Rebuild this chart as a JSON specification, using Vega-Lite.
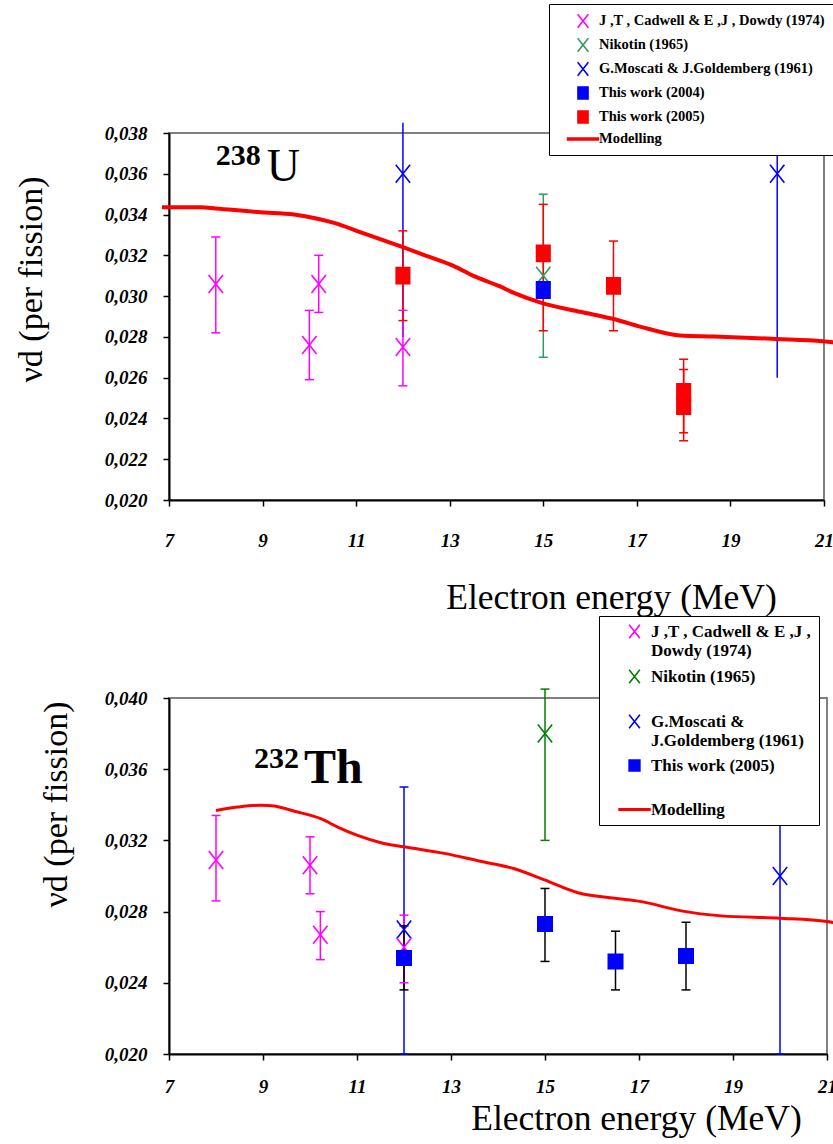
{
  "$schema": "https://vega.github.io/schema/vega-lite/v6.json",
  "padding": {"left": 13, "top": 2, "right": 0, "bottom": 0},
  "background": "white",
  "bounds": "flush",
  "spacing": 198,
  "datasets": {
    "u_pts": [
      {"s": "G.Moscati & J.Goldemberg (1961)", "E": 12, "v": 0.036, "lo": 0.028, "hi": 0.0385},
      {"s": "G.Moscati & J.Goldemberg (1961)", "E": 20, "v": 0.036, "lo": 0.026, "hi": 0.0385},
      {"s": "J ,T , Cadwell & E ,J , Dowdy (1974)", "E": 8, "v": 0.0306, "lo": 0.0282, "hi": 0.0329},
      {"s": "J ,T , Cadwell & E ,J , Dowdy (1974)", "E": 10, "v": 0.0276, "lo": 0.0259, "hi": 0.0293},
      {"s": "J ,T , Cadwell & E ,J , Dowdy (1974)", "E": 10.2, "v": 0.0306, "lo": 0.0292, "hi": 0.032},
      {"s": "J ,T , Cadwell & E ,J , Dowdy (1974)", "E": 12, "v": 0.0275, "lo": 0.0256, "hi": 0.0293},
      {"s": "Nikotin (1965)", "E": 15, "v": 0.031, "lo": 0.027, "hi": 0.035},
      {"s": "This work (2004)", "E": 15, "v": 0.0303, "lo": null, "hi": null},
      {"s": "This work (2005)", "E": 12, "v": 0.031, "lo": 0.0288, "hi": 0.0332},
      {"s": "This work (2005)", "E": 15, "v": 0.0321, "lo": 0.0283, "hi": 0.0345},
      {"s": "This work (2005)", "E": 16.5, "v": 0.0305, "lo": 0.0283, "hi": 0.0327},
      {"s": "This work (2005)", "E": 18, "v": 0.0253, "lo": 0.0233, "hi": 0.0269},
      {"s": "This work (2005)", "E": 18, "v": 0.0246, "lo": 0.0229, "hi": 0.0264}
    ],
    "u_curve": [
      {"E": 6.85, "v": 0.03436}, {"E": 7.0, "v": 0.03436}, {"E": 7.68, "v": 0.03436},
      {"E": 8.0, "v": 0.0343}, {"E": 8.96, "v": 0.03411}, {"E": 9.67, "v": 0.034},
      {"E": 10.1, "v": 0.03383}, {"E": 10.53, "v": 0.03359}, {"E": 11.1, "v": 0.03313},
      {"E": 12.0, "v": 0.0324}, {"E": 12.52, "v": 0.03196}, {"E": 13.09, "v": 0.03147},
      {"E": 13.52, "v": 0.03098}, {"E": 14.05, "v": 0.0305}, {"E": 14.37, "v": 0.03016},
      {"E": 14.96, "v": 0.02967}, {"E": 15.79, "v": 0.02923}, {"E": 16.48, "v": 0.02889},
      {"E": 17.22, "v": 0.02841}, {"E": 17.93, "v": 0.02807}, {"E": 18.64, "v": 0.02802},
      {"E": 19.98, "v": 0.0279}, {"E": 20.97, "v": 0.02779}, {"E": 21.2, "v": 0.02774}
    ],
    "th_pts": [
      {"s": "G.Moscati & J.Goldemberg (1961)", "E": 12, "v": 0.027, "lo": 0.02, "hi": 0.035},
      {"s": "G.Moscati & J.Goldemberg (1961)", "E": 20, "v": 0.03, "lo": 0.02, "hi": 0.04},
      {"s": "J ,T , Cadwell & E ,J , Dowdy (1974)", "E": 8, "v": 0.0309, "lo": 0.0286, "hi": 0.0334},
      {"s": "J ,T , Cadwell & E ,J , Dowdy (1974)", "E": 10, "v": 0.0306, "lo": 0.029, "hi": 0.0322},
      {"s": "J ,T , Cadwell & E ,J , Dowdy (1974)", "E": 10.22, "v": 0.0267, "lo": 0.0253, "hi": 0.028},
      {"s": "J ,T , Cadwell & E ,J , Dowdy (1974)", "E": 12, "v": 0.026, "lo": 0.024, "hi": 0.0278},
      {"s": "Nikotin (1965)", "E": 15, "v": 0.038, "lo": 0.032, "hi": 0.0405},
      {"s": "This work (2005)", "E": 12, "v": 0.0254, "lo": 0.0236, "hi": 0.0272},
      {"s": "This work (2005)", "E": 15, "v": 0.0273, "lo": 0.0252, "hi": 0.0293},
      {"s": "This work (2005)", "E": 16.5, "v": 0.0252, "lo": 0.0236, "hi": 0.0269},
      {"s": "This work (2005)", "E": 18, "v": 0.0255, "lo": 0.0236, "hi": 0.0274}
    ],
    "th_curve": [
      {"E": 8.0, "v": 0.03368}, {"E": 8.46, "v": 0.03387}, {"E": 8.96, "v": 0.03398},
      {"E": 9.24, "v": 0.03393}, {"E": 9.67, "v": 0.03364}, {"E": 10.24, "v": 0.03321},
      {"E": 10.59, "v": 0.03275}, {"E": 11.01, "v": 0.03228}, {"E": 11.51, "v": 0.03187},
      {"E": 12.0, "v": 0.03164}, {"E": 12.86, "v": 0.03127}, {"E": 13.6, "v": 0.03084},
      {"E": 14.35, "v": 0.03041}, {"E": 14.99, "v": 0.02978}, {"E": 15.7, "v": 0.02906},
      {"E": 16.48, "v": 0.02875}, {"E": 17.05, "v": 0.02856}, {"E": 17.9, "v": 0.02804},
      {"E": 18.75, "v": 0.02776}, {"E": 20.0, "v": 0.02763}, {"E": 21.0, "v": 0.02744},
      {"E": 21.15, "v": 0.02738}
    ]
  },
  "vconcat": [
    {
      "width": 655,
      "height": 367,
      "encoding": {
        "x": {"field": "E", "type": "quantitative", "title": "Electron energy (MeV)",
          "scale": {"domain": [7, 21], "nice": false, "zero": false},
          "axis": {"values": [7, 9, 11, 13, 15, 17, 19, 21], "labelPadding": 25, "labelFlush": false,
            "titleFontSize": 35.5, "titleX": 442, "titleY": 108, "titleBaseline": "alphabetic"}}
      },
      "layer": [
        {
          "data": {"name": "u_pts"},
          "transform": [{"filter": "datum.lo != null"}],
          "mark": {"type": "rule", "strokeWidth": 1.5},
          "encoding": {
            "y": {"field": "lo", "type": "quantitative", "title": "νd (per fission)",
              "scale": {"domain": [0.02, 0.038], "nice": false, "zero": false},
              "axis": {"values": [0.02, 0.022, 0.024, 0.026, 0.028, 0.03, 0.032, 0.034, 0.036, 0.038],
                "labelExpr": "replace(format(datum.value, '.3f'), '.', ',')", "labelPadding": 16,
                "titleFontSize": 34, "titleX": -128, "titleY": 146, "titleBaseline": "alphabetic"}},
            "y2": {"field": "hi"},
            "stroke": {"field": "s", "type": "nominal",
              "scale": {"domain": ["J ,T , Cadwell & E ,J , Dowdy (1974)", "Nikotin (1965)", "G.Moscati & J.Goldemberg (1961)", "This work (2004)", "This work (2005)", "Modelling"],
                "range": ["#FF00FF", "#339966", "#0000FF", "#0000FF", "#FF0000", "#FF0000"]}}
          }
        },
        {
          "data": {"name": "u_pts"},
          "transform": [{"filter": "datum.lo != null && datum.s != 'G.Moscati & J.Goldemberg (1961)'"}],
          "mark": {"type": "tick", "orient": "horizontal", "size": 9, "thickness": 1.5, "opacity": 1},
          "encoding": {
            "y": {"field": "lo", "type": "quantitative", "title": "νd (per fission)"},
            "fill": {"field": "s", "type": "nominal",
              "scale": {"domain": ["J ,T , Cadwell & E ,J , Dowdy (1974)", "Nikotin (1965)", "G.Moscati & J.Goldemberg (1961)", "This work (2004)", "This work (2005)", "Modelling"],
                "range": ["#FF00FF", "#339966", "#0000FF", "#0000FF", "#FF0000", "#FF0000"]}}
          }
        },
        {
          "data": {"name": "u_pts"},
          "transform": [{"filter": "datum.hi != null && datum.s != 'G.Moscati & J.Goldemberg (1961)'"}],
          "mark": {"type": "tick", "orient": "horizontal", "size": 9, "thickness": 1.5, "opacity": 1},
          "encoding": {
            "y": {"field": "hi", "type": "quantitative", "title": "νd (per fission)"},
            "fill": {"field": "s", "type": "nominal"}
          }
        },
        {
          "data": {"name": "u_curve"},
          "mark": {"type": "line", "color": "#FF0000", "strokeWidth": 4, "interpolate": "monotone"},
          "encoding": {
            "y": {"field": "v", "type": "quantitative", "title": "νd (per fission)"}
          }
        },
        {
          "data": {"name": "u_pts"},
          "mark": {"type": "point", "opacity": 1, "strokeWidth": 1.6, "size": 324},
          "encoding": {
            "y": {"field": "v", "type": "quantitative", "title": "νd (per fission)"},
            "shape": {"field": "s", "type": "nominal",
              "scale": {"domain": ["J ,T , Cadwell & E ,J , Dowdy (1974)", "Nikotin (1965)", "G.Moscati & J.Goldemberg (1961)", "This work (2004)", "This work (2005)", "Modelling"],
                "range": ["M-0.8,-1L0.8,1M-0.8,1L0.8,-1", "M-0.8,-1L0.8,1M-0.8,1L0.8,-1", "M-0.8,-1L0.8,1M-0.8,1L0.8,-1", "M-0.75,-0.9H0.75V0.9H-0.75Z", "M-0.75,-0.9H0.75V0.9H-0.75Z", "M-2.3,-0.15H2.3V0.15H-2.3Z"]},
              "legend": {"title": null, "orient": "none", "legendX": 380, "legendY": -129, "zindex": 2,
                "padding": 9, "fillColor": "white", "strokeColor": "black",
                "symbolSize": 180, "symbolStrokeWidth": 1.6, "symbolOffset": 17, "labelOffset": 8,
                "rowPadding": 4, "labelFont": "Liberation Serif", "labelFontSize": 14.5, "labelFontWeight": "bold",
                "labelColor": "black", "labelLimit": 400}},
            "fill": {"field": "s", "type": "nominal",
              "legend": {"title": null, "orient": "none", "legendX": 380, "legendY": -129, "zindex": 2,
                "padding": 9, "fillColor": "white", "strokeColor": "black",
                "symbolSize": 180, "symbolStrokeWidth": 1.6, "symbolOffset": 17, "labelOffset": 8,
                "rowPadding": 4, "labelFont": "Liberation Serif", "labelFontSize": 14.5, "labelFontWeight": "bold",
                "labelColor": "black", "labelLimit": 400}},
            "stroke": {"field": "s", "type": "nominal",
              "legend": {"title": null, "orient": "none", "legendX": 380, "legendY": -129, "zindex": 2,
                "padding": 9, "fillColor": "white", "strokeColor": "black",
                "symbolSize": 180, "symbolStrokeWidth": 1.6, "symbolOffset": 17, "labelOffset": 8,
                "rowPadding": 4, "labelFont": "Liberation Serif", "labelFontSize": 14.5, "labelFontWeight": "bold",
                "labelColor": "black", "labelLimit": 400}}
          }
        },
        {
          "data": {"values": [{"t": "238", "E": 8.0, "v": 0.03645}]},
          "mark": {"type": "text", "align": "left", "baseline": "alphabetic", "font": "Liberation Serif", "fontSize": 30, "fontWeight": "bold", "color": "black"},
          "encoding": {"y": {"field": "v", "type": "quantitative", "title": "νd (per fission)"}, "text": {"field": "t"}}
        },
        {
          "data": {"values": [{"t": "U", "E": 9.09, "v": 0.03563}]},
          "mark": {"type": "text", "align": "left", "baseline": "alphabetic", "font": "Liberation Serif", "fontSize": 46, "color": "black"},
          "encoding": {"y": {"field": "v", "type": "quantitative", "title": "νd (per fission)"}, "text": {"field": "t"}}
        }
      ]
    },
    {
      "width": 658,
      "height": 356,
      "encoding": {
        "x": {"field": "E", "type": "quantitative", "title": "Electron energy (MeV)",
          "scale": {"domain": [7, 21], "nice": false, "zero": false},
          "axis": {"values": [7, 9, 11, 13, 15, 17, 19, 21], "labelPadding": 17, "labelFlush": false,
            "titleFontSize": 35.5, "titleX": 467, "titleY": 75, "titleBaseline": "alphabetic"}}
      },
      "layer": [
        {
          "data": {"name": "th_pts"},
          "mark": {"type": "rule", "strokeWidth": 1.5},
          "encoding": {
            "y": {"field": "lo", "type": "quantitative", "title": "νd (per fission)",
              "scale": {"domain": [0.02, 0.04], "nice": false, "zero": false},
              "axis": {"values": [0.02, 0.024, 0.028, 0.032, 0.036, 0.04],
                "labelExpr": "replace(format(datum.value, '.3f'), '.', ',')", "labelPadding": 16,
                "titleFontSize": 34, "titleX": -103, "titleY": 106, "titleBaseline": "alphabetic"}},
            "y2": {"field": "hi"},
            "stroke": {"condition": {"test": "datum.s == 'This work (2005)'", "value": "black"},
              "field": "s", "type": "nominal",
              "scale": {"domain": ["J ,T , Cadwell & E ,J , Dowdy (1974)", "Nikotin (1965)", "G.Moscati & J.Goldemberg (1961)", "This work (2005)", "Modelling"],
                "range": ["#FF00FF", "#008000", "#0000FF", "#0000FF", "#FF0000"]}}
          }
        },
        {
          "data": {"name": "th_pts"},
          "mark": {"type": "tick", "orient": "horizontal", "size": 9, "thickness": 1.5, "opacity": 1},
          "encoding": {
            "y": {"field": "lo", "type": "quantitative", "title": "νd (per fission)"},
            "fill": {"condition": {"test": "datum.s == 'This work (2005)'", "value": "black"},
              "field": "s", "type": "nominal",
              "scale": {"domain": ["J ,T , Cadwell & E ,J , Dowdy (1974)", "Nikotin (1965)", "G.Moscati & J.Goldemberg (1961)", "This work (2005)", "Modelling"],
                "range": ["#FF00FF", "#008000", "#0000FF", "#0000FF", "#FF0000"]}}
          }
        },
        {
          "data": {"name": "th_pts"},
          "mark": {"type": "tick", "orient": "horizontal", "size": 9, "thickness": 1.5, "opacity": 1},
          "encoding": {
            "y": {"field": "hi", "type": "quantitative", "title": "νd (per fission)"},
            "fill": {"condition": {"test": "datum.s == 'This work (2005)'", "value": "black"},
              "field": "s", "type": "nominal"}
          }
        },
        {
          "data": {"name": "th_curve"},
          "mark": {"type": "line", "color": "#FF0000", "strokeWidth": 3, "interpolate": "monotone"},
          "encoding": {
            "y": {"field": "v", "type": "quantitative", "title": "νd (per fission)"}
          }
        },
        {
          "data": {"name": "th_pts"},
          "mark": {"type": "point", "opacity": 1, "strokeWidth": 1.6, "size": 324},
          "encoding": {
            "y": {"field": "v", "type": "quantitative", "title": "νd (per fission)"},
            "shape": {"field": "s", "type": "nominal",
              "scale": {"domain": ["J ,T , Cadwell & E ,J , Dowdy (1974)", "Nikotin (1965)", "G.Moscati & J.Goldemberg (1961)", "This work (2005)", "Modelling"],
                "range": ["M-0.8,-1L0.8,1M-0.8,1L0.8,-1", "M-0.8,-1L0.8,1M-0.8,1L0.8,-1", "M-0.8,-1L0.8,1M-0.8,1L0.8,-1", "M-0.8,-0.8H0.8V0.8H-0.8Z", "M-2.3,-0.1H2.3V0.1H-2.3Z"]},
              "legend": {"title": null, "orient": "none", "legendX": 430, "legendY": -82, "zindex": 2,
                "padding": 7, "fillColor": "white", "strokeColor": "black",
                "symbolSize": 180, "symbolStrokeWidth": 1.6, "symbolOffset": 20, "labelOffset": 8,
                "rowPadding": 7, "labelFont": "Liberation Serif", "labelFontSize": 17, "labelFontWeight": "bold",
                "labelColor": "black", "labelLimit": 400,
                "labelExpr": "datum.label == 'J ,T , Cadwell & E ,J , Dowdy (1974)' ? ['J ,T , Cadwell & E ,J ,', 'Dowdy (1974)'] : datum.label == 'Nikotin (1965)' ? [' Nikotin (1965)', ''] : datum.label == 'G.Moscati & J.Goldemberg (1961)' ? ['G.Moscati &', 'J.Goldemberg (1961)'] : datum.label == 'This work (2005)' ? ['This work (2005)', ''] : datum.label"}},
            "fill": {"field": "s", "type": "nominal",
              "legend": {"title": null, "orient": "none", "legendX": 430, "legendY": -82, "zindex": 2,
                "padding": 7, "fillColor": "white", "strokeColor": "black",
                "symbolSize": 180, "symbolStrokeWidth": 1.6, "symbolOffset": 20, "labelOffset": 8,
                "rowPadding": 7, "labelFont": "Liberation Serif", "labelFontSize": 17, "labelFontWeight": "bold",
                "labelColor": "black", "labelLimit": 400,
                "labelExpr": "datum.label == 'J ,T , Cadwell & E ,J , Dowdy (1974)' ? ['J ,T , Cadwell & E ,J ,', 'Dowdy (1974)'] : datum.label == 'Nikotin (1965)' ? [' Nikotin (1965)', ''] : datum.label == 'G.Moscati & J.Goldemberg (1961)' ? ['G.Moscati &', 'J.Goldemberg (1961)'] : datum.label == 'This work (2005)' ? ['This work (2005)', ''] : datum.label"}},
            "stroke": {"field": "s", "type": "nominal",
              "legend": {"title": null, "orient": "none", "legendX": 430, "legendY": -82, "zindex": 2,
                "padding": 7, "fillColor": "white", "strokeColor": "black",
                "symbolSize": 180, "symbolStrokeWidth": 1.6, "symbolOffset": 20, "labelOffset": 8,
                "rowPadding": 7, "labelFont": "Liberation Serif", "labelFontSize": 17, "labelFontWeight": "bold",
                "labelColor": "black", "labelLimit": 400,
                "labelExpr": "datum.label == 'J ,T , Cadwell & E ,J , Dowdy (1974)' ? ['J ,T , Cadwell & E ,J ,', 'Dowdy (1974)'] : datum.label == 'Nikotin (1965)' ? [' Nikotin (1965)', ''] : datum.label == 'G.Moscati & J.Goldemberg (1961)' ? ['G.Moscati &', 'J.Goldemberg (1961)'] : datum.label == 'This work (2005)' ? ['This work (2005)', ''] : datum.label"}}
          }
        },
        {
          "data": {"values": [{"t": "232", "E": 8.81, "v": 0.03606}]},
          "mark": {"type": "text", "align": "left", "baseline": "alphabetic", "font": "Liberation Serif", "fontSize": 30, "fontWeight": "bold", "color": "black"},
          "encoding": {"y": {"field": "v", "type": "quantitative", "title": "νd (per fission)"}, "text": {"field": "t"}}
        },
        {
          "data": {"values": [{"t": "Th", "E": 9.87, "v": 0.03523}]},
          "mark": {"type": "text", "align": "left", "baseline": "alphabetic", "font": "Liberation Serif", "fontSize": 48, "fontWeight": "bold", "color": "black"},
          "encoding": {"y": {"field": "v", "type": "quantitative", "title": "νd (per fission)"}, "text": {"field": "t"}}
        }
      ]
    }
  ],
  "resolve": {
    "scale": {"shape": "independent", "fill": "independent", "stroke": "independent"},
    "legend": {"shape": "independent", "fill": "independent", "stroke": "independent"}
  },
  "config": {
    "view": {"stroke": "#808080", "strokeWidth": 2},
    "font": "Liberation Serif",
    "axis": {
      "domainColor": "black", "domainWidth": 2, "tickColor": "black", "tickWidth": 1.5, "tickSize": 6,
      "grid": false, "labelFont": "Liberation Serif", "labelFontStyle": "italic", "labelFontWeight": "bold",
      "labelFontSize": 19, "labelColor": "black", "titleFont": "Liberation Serif", "titleFontWeight": "normal",
      "titleColor": "black", "labelOverlap": false
    }
  }
}
